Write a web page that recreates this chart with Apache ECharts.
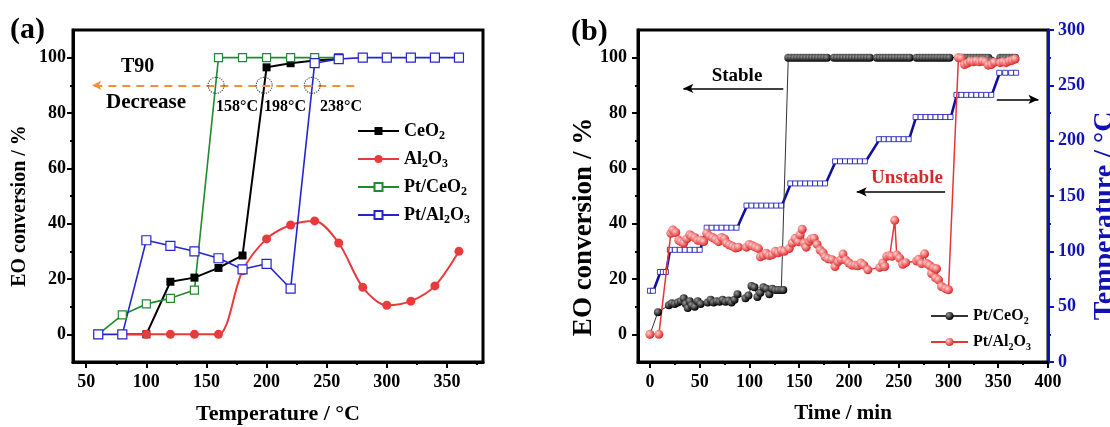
<!DOCTYPE html>
<html>
<head>
<meta charset="utf-8">
<script src="https://cdn.jsdelivr.net/npm/echarts@6.0.0/dist/echarts.min.js"></script>
<style>
html, body { margin: 0; padding: 0; background: #fff; }
#main { width: 1110px; height: 427px; }
</style>
</head>
<body>
<div id="main"></div>
<script>
// ---- panel (a): conversion vs temperature
var tempA    = [60, 80, 100, 120, 140, 160, 180, 200, 220, 240, 260, 280, 300, 320, 340, 360];
var ceO2     = [null, 0, 0, 19, 20.5, 24, 28.5, 96.5, 98, 99, 99.5, null, null, null, null, null];
var al2O3    = [null, 0, 0, 0, 0, 0, 23, 34.5, 39.5, 41, 33, 17, 10.5, 12, 17.5, 30];
var ptCeO2   = [0, 7, 11, 13, 16, 100, 100, 100, 100, 100, 100, null, null, null, null, null];
var ptAl2O3  = [0, 0, 34, 32, 30, 27.5, 23.5, 25.5, 16.5, 98, 99.5, 100, 100, 100, 100, 100];
var t90Marks = [158, 198, 238];
var t90Level = 90;
var t90Line  = [273, 55];

// ---- panel (b): stability test
var timeCe = [0, 8,
  19, 22, 25, 28, 31, 34, 36, 38, 40, 42, 45, 48, 51,
  58, 61, 64, 67, 70, 73, 76, 79, 82, 85, 88,
  96, 99, 102, 105, 108, 111, 114, 117, 120, 123, 126, 129, 132, 134,
  139, 142, 145, 148, 151, 154, 157, 160, 163, 166, 169, 172, 175, 178,
  185, 188, 191, 194, 197, 200, 203, 206, 209, 212, 215, 218, 221,
  228, 231, 234, 237, 240, 243, 246, 249, 252, 255, 258, 261,
  268, 271, 274, 277, 280, 283, 286, 289, 292, 295, 298, 301,
  310, 313, 316, 319, 322, 325, 328, 331, 334, 337, 340, 343,
  352, 355, 358, 361, 364, 367];
var convCe = [0, 8,
  10.5, 11.2, 11, 11.5, 12, 13, 11, 9.5, 12, 10.5, 10, 12, 11,
  11.5, 12.5, 11.5, 12, 11.8, 12.5, 11.8, 12.2, 11.5, 12.5, 14.5,
  13, 14, 17.5, 17, 13.5, 15, 17, 16.5, 14.5, 16.5, 16, 16, 16, 16,
  100, 100, 100, 100, 100, 100, 100, 100, 100, 100, 100, 100, 100, 100,
  100, 100, 100, 100, 100, 100, 100, 100, 100, 100, 100, 100, 100,
  100, 100, 100, 100, 100, 100, 100, 100, 100, 100, 100, 100,
  100, 100, 100, 100, 100, 100, 100, 100, 100, 100, 100, 100,
  100, 100, 100, 100, 100, 100, 100, 100, 100, 100, 100, 99,
  100, 100, 100, 100, 100, 100];

var timeAl = [0, 9, 21, 23, 26, 29, 31, 34, 37, 40, 42, 45, 48, 51, 54,
  57, 60, 63, 66, 69, 72, 75, 77, 80, 83, 86, 89,
  97, 100, 103, 106, 109, 111, 114, 117, 120, 123, 126, 129, 132, 135,
  140, 143, 146, 149, 151, 153, 155, 157, 160, 162, 165, 168, 171, 174, 176, 179,
  183, 186, 189, 192, 194, 197, 200, 203, 206, 209, 212, 215, 219,
  231, 234, 236, 238, 241, 243, 246, 248, 251, 254, 257,
  268, 270, 273, 276, 278, 281, 283, 285, 287, 288, 290, 293, 297, 300,
  310, 313, 316, 319, 322, 325, 328, 331, 334, 337, 340, 343, 346,
  352, 355, 358, 361, 364, 367];
var convAl = [0, 0, 36.5, 37.7, 36.8, 34, 33.5, 33, 34.5, 36, 35.5, 35, 34, 34, 33.5,
  36.5, 35.5, 35, 34.3, 33.5, 35, 34.5, 33, 32.3, 31.8, 31.2, 31.5,
  31.5, 32.5, 32, 31.5, 31, 28, 28.5, 29.3, 28.5, 28.8, 30, 29.5, 30.3, 30,
  31, 33, 34.7, 33.5, 36, 38, 33, 31.5, 33.5, 34.5, 34.7, 32.5, 30.5, 29.5, 28, 27.3,
  27, 24.5, 26.2, 27, 29, 26.8, 25.8, 25, 25, 24.8, 25.8, 25, 23.3,
  24.2, 25.8, 24.5, 28.2, 28.5, 28.2, 41.2, 28.7, 27.5, 25.3, 25.9,
  26.5, 27.1, 25.6, 29.1, 25.6, 24.9, 22, 24, 20.4, 23.7, 19.7, 17.3, 16.5, 16.1,
  100, 99.8, 97.5, 98, 98.7, 98.5, 98.8, 98.5, 98.8, 98.5, 97.3, 97.5, 98.3,
  98.2, 98.5, 98.2, 98.8, 99, 99.5];

var timeT = [0, 3, 10, 13, 16,
  20, 25, 30, 35, 40, 45, 50,
  57, 62, 67, 72, 77, 82, 87,
  97, 102, 107, 112, 117, 122, 127, 132,
  141, 146, 151, 156, 161, 166, 171, 176,
  186, 191, 196, 201, 206, 211, 216,
  230, 235, 240, 245, 250, 255, 260,
  267, 272, 277, 282, 287, 292, 297, 302,
  308, 313, 318, 323, 328, 333, 338, 343,
  351, 357, 363, 368];
var tempT = [63, 63, 80, 80, 80,
  100, 100, 100, 100, 100, 100, 100,
  120, 120, 120, 120, 120, 120, 120,
  140, 140, 140, 140, 140, 140, 140, 140,
  160, 160, 160, 160, 160, 160, 160, 160,
  180, 180, 180, 180, 180, 180, 180,
  200, 200, 200, 200, 200, 200, 200,
  220, 220, 220, 220, 220, 220, 220, 220,
  240, 240, 240, 240, 240, 240, 240, 240,
  260, 260, 260, 260];

// arrows: [from t, to t, level %]
var arrowsB = [[134, 33.6, 88.9], [296.6, 207.8, 51.5], [348.5, 390.4, 84.9]];

// ticks
var xTicksA = [50, 100, 150, 200, 250, 300, 350];
var xMinorA = [75, 125, 175, 225, 275, 325, 375];
var yTicks  = [0, 20, 40, 60, 80, 100];
var yMinor  = [10, 30, 50, 70, 90];
var xTicksB = [0, 50, 100, 150, 200, 250, 300, 350, 400];
var xMinorB = [25, 75, 125, 175, 225, 275, 325, 375];
var tTicksB = [0, 50, 100, 150, 200, 250, 300];
var tMinorB = [25, 75, 125, 175, 225, 275];

var FONT = 'Liberation Serif';

function pairs(xs, ys) {
  var out = [];
  for (var i = 0; i < xs.length; i++) {
    if (ys[i] != null) out.push([xs[i], ys[i]]);
  }
  return out;
}

// heating ramps only: segments joining the end of one step to the start of the next
function ramps(xs, ys) {
  var out = [];
  for (var i = 1; i < xs.length; i++) {
    if (ys[i] !== ys[i - 1]) {
      out.push([xs[i - 1], ys[i - 1]], [xs[i], ys[i]], ['-', '-']);
    }
  }
  return out;
}

function mainAxis(o, color) {
  color = color || '#000';
  return Object.assign({
    type: 'value',
    axisLine: { show: true, onZero: false, lineStyle: { color: color, width: 3 } },
    axisTick: { show: true, customValues: o.ticks, length: 6, lineStyle: { color: color, width: 2 } },
    axisLabel: { customValues: o.ticks, margin: o.margin, fontFamily: FONT, fontWeight: 'bold', fontSize: 18, color: color },
    splitLine: { show: false },
    nameLocation: 'middle',
    nameMoveOverlap: false
  }, o.extra);
}

function minorAxis(o, color) {
  color = color || '#000';
  return Object.assign({
    type: 'value',
    axisLine: { show: false, onZero: false },
    axisTick: { show: true, customValues: o.ticks, length: 3, lineStyle: { color: color, width: 2 } },
    axisLabel: { show: false },
    splitLine: { show: false }
  }, o.extra);
}

var nameStyle = function (size, color) {
  return { fontFamily: FONT, fontWeight: 'bold', fontSize: size, color: color || '#000' };
};

var subs = {
  'CeO2': '{n|CeO}{s|2}',
  'Al2O3': '{n|Al}{s|2}{n|O}{s|3}',
  'Pt/CeO2': '{n|Pt/CeO}{s|2}',
  'Pt/Al2O3': '{n|Pt/Al}{s|2}{n|O}{s|3}',
  'Pt/CeO2 b': '{n|Pt/CeO}{s|2}',
  'Pt/Al2O3 b': '{n|Pt/Al}{s|2}{n|O}{s|3}'
};

function legendText(size, lh) {
  return {
    fontFamily: FONT, fontWeight: 'bold', fontSize: size, color: '#000',
    rich: {
      n: { fontFamily: FONT, fontWeight: 'bold', fontSize: size, lineHeight: lh, color: '#000' },
      s: { fontFamily: FONT, fontWeight: 'bold', fontSize: Math.round(size * 0.65), lineHeight: Math.round(lh / 2), verticalAlign: 'bottom', color: '#000' }
    }
  };
}

function ball(light, dark) {
  return new echarts.graphic.RadialGradient(0.35, 0.35, 0.65, [
    { offset: 0, color: light }, { offset: 1, color: dark }
  ]);
}

var blue = '#1212b4';

var myChart = echarts.init(document.getElementById('main'));
var option = {
  animation: false,
  backgroundColor: '#fff',
  grid: [
    { left: 73, top: 30, width: 410, height: 332, show: true, borderColor: '#000', borderWidth: 3, outerBoundsMode: 'none' },
    { left: 638, top: 30, width: 410, height: 332, show: true, borderColor: '#000', borderWidth: 3, outerBoundsMode: 'none' }
  ],
  xAxis: [
    mainAxis({ ticks: xTicksA, margin: 11, extra: { gridIndex: 0, position: 'bottom', min: 39, max: 380,
      name: 'Temperature / °C', nameGap: 41, nameTextStyle: nameStyle(22) } }),
    minorAxis({ ticks: xMinorA, extra: { gridIndex: 0, position: 'bottom', min: 39, max: 380 } }),
    mainAxis({ ticks: xTicksB, margin: 11, extra: { gridIndex: 1, position: 'bottom', min: -12, max: 400,
      name: 'Time / min', nameGap: 41, nameTextStyle: nameStyle(21) } }),
    minorAxis({ ticks: xMinorB, extra: { gridIndex: 1, position: 'bottom', min: -12, max: 400 } })
  ],
  yAxis: [
    mainAxis({ ticks: yTicks, margin: 7, extra: { gridIndex: 0, position: 'left', min: -10, max: 110,
      name: 'EO conversion / %', nameGap: 43, nameRotate: 90, nameTextStyle: Object.assign(nameStyle(20), { padding: [0, 20, 0, 0] }) } }),
    minorAxis({ ticks: yMinor, extra: { gridIndex: 0, position: 'left', min: -10, max: 110 } }),
    mainAxis({ ticks: yTicks, margin: 11, extra: { gridIndex: 1, position: 'left', min: -10, max: 110,
      name: 'EO conversion / %', nameGap: 40, nameRotate: 90, nameTextStyle: Object.assign(nameStyle(27), { padding: [0, 62, 0, 0] }) } }),
    minorAxis({ ticks: yMinor, extra: { gridIndex: 1, position: 'left', min: -10, max: 110 } }),
    mainAxis({ ticks: tTicksB, margin: 10, extra: { gridIndex: 1, position: 'right', min: 0, max: 300,
      name: 'Temperature / °C', nameGap: 43, nameRotate: 90, nameTextStyle: Object.assign(nameStyle(28, blue), { padding: [0, 40, 0, 0] }) } }, blue),
    minorAxis({ ticks: tMinorB, extra: { gridIndex: 1, position: 'right', min: 0, max: 300 } }, blue)
  ],
  legend: [
    {
      data: ['CeO2', 'Al2O3', 'Pt/CeO2', 'Pt/Al2O3'],
      orient: 'vertical', left: 352, top: 117, itemWidth: 41, itemHeight: 10, itemGap: 8,
      selectedMode: false,
      formatter: function (name) { return subs[name]; },
      textStyle: legendText(18, 22)
    },
    {
      data: ['Pt/CeO2 b', 'Pt/Al2O3 b'],
      orient: 'vertical', left: 925, top: 303, itemWidth: 37, itemHeight: 10, itemGap: 8,
      selectedMode: false,
      formatter: function (name) { return subs[name]; },
      textStyle: legendText(16, 20)
    }
  ],
  graphic: [
    { type: 'text', x: 10, y: 30, style: { text: '(a)', font: 'bold 30px "Liberation Serif"', fill: '#000', textVerticalAlign: 'middle', verticalAlign: 'middle' } },
    { type: 'text', x: 571, y: 32, style: { text: '(b)', font: 'bold 30px "Liberation Serif"', fill: '#000', textVerticalAlign: 'middle', verticalAlign: 'middle' } },
    { type: 'text', x: 121, y: 67, style: { text: 'T90', font: 'bold 20px "Liberation Serif"', fill: '#000', textVerticalAlign: 'middle', verticalAlign: 'middle' } },
    { type: 'text', x: 106, y: 103, style: { text: 'Decrease', font: 'bold 21px "Liberation Serif"', fill: '#000', textVerticalAlign: 'middle', verticalAlign: 'middle' } },
    { type: 'text', x: 216, y: 107, style: { text: '158°C', font: 'bold 16px "Liberation Serif"', fill: '#000', textVerticalAlign: 'middle', verticalAlign: 'middle' } },
    { type: 'text', x: 264, y: 107, style: { text: '198°C', font: 'bold 16px "Liberation Serif"', fill: '#000', textVerticalAlign: 'middle', verticalAlign: 'middle' } },
    { type: 'text', x: 320, y: 107, style: { text: '238°C', font: 'bold 16px "Liberation Serif"', fill: '#000', textVerticalAlign: 'middle', verticalAlign: 'middle' } },
    { type: 'text', x: 737, y: 76, style: { text: 'Stable', font: 'bold 19px "Liberation Serif"', fill: '#000', textAlign: 'center', align: 'center', textVerticalAlign: 'middle', verticalAlign: 'middle' } },
    { type: 'text', x: 907, y: 178, style: { text: 'Unstable', font: 'bold 19px "Liberation Serif"', fill: '#d42a2a', textAlign: 'center', align: 'center', textVerticalAlign: 'middle', verticalAlign: 'middle' } }
  ],
  series: [
    {
      name: 'CeO2', type: 'line', xAxisIndex: 0, yAxisIndex: 0,
      data: pairs(tempA, ceO2),
      symbol: 'rect', symbolSize: 8,
      itemStyle: { color: '#000' }, lineStyle: { color: '#000', width: 2 }
    },
    {
      name: 'Al2O3', type: 'line', xAxisIndex: 0, yAxisIndex: 0,
      data: pairs(tempA, al2O3), smooth: 0.3,
      symbol: 'circle', symbolSize: 9,
      itemStyle: { color: '#ea3a3c' }, lineStyle: { color: '#ea3a3c', width: 2 }
    },
    {
      name: 'Pt/CeO2', type: 'line', xAxisIndex: 0, yAxisIndex: 0,
      data: pairs(tempA, ptCeO2),
      symbol: 'rect', symbolSize: 8,
      itemStyle: { color: '#fff', borderColor: '#1f8a2e', borderWidth: 1.2 },
      lineStyle: { color: '#1f8a2e', width: 1.6 }
    },
    {
      name: 'Pt/Al2O3', type: 'line', xAxisIndex: 0, yAxisIndex: 0,
      data: pairs(tempA, ptAl2O3),
      symbol: 'rect', symbolSize: 9,
      itemStyle: { color: '#fff', borderColor: '#2424d0', borderWidth: 1.2 },
      lineStyle: { color: '#2424d0', width: 1.6 }
    },
    {
      name: 'T90', type: 'scatter', xAxisIndex: 0, yAxisIndex: 0, z: 5,
      data: t90Marks.map(function (t) { return [t, t90Level]; }),
      symbol: 'circle', symbolSize: 16,
      itemStyle: { color: 'rgba(0,0,0,0)', borderColor: '#222', borderWidth: 1.2, borderType: 'dotted' },
      markLine: {
        silent: true, symbol: ['none', 'arrow'], symbolSize: [7, 9],
        label: { show: false },
        lineStyle: { color: '#f0903a', width: 2, type: [8, 6] },
        data: [[{ coord: [t90Line[0], t90Level] }, { coord: [t90Line[1], t90Level] }]]
      }
    },
    {
      name: 'Temp', type: 'line', xAxisIndex: 2, yAxisIndex: 4, z: 1,
      data: pairs(timeT, tempT),
      symbol: 'rect', symbolSize: 5, symbolOffset: [0, -1.5],
      itemStyle: { color: '#fff', borderColor: blue, borderWidth: 0.8 },
      lineStyle: { color: '#2a2aa8', width: 1 }
    },
    {
      name: 'Temp ramp', type: 'line', xAxisIndex: 2, yAxisIndex: 4, z: 1,
      data: ramps(timeT, tempT), connectNulls: false,
      symbol: 'none',
      lineStyle: { color: '#10109c', width: 2.6 }
    },
    {
      name: 'Pt/CeO2 b', type: 'line', xAxisIndex: 2, yAxisIndex: 2,
      data: pairs(timeCe, convCe),
      symbol: 'circle', symbolSize: 8,
      itemStyle: { color: ball('#9a9a9a', '#000') },
      lineStyle: { color: '#333', width: 1 },
      markLine: {
        silent: true, symbol: ['none', 'arrow'], symbolSize: [7, 10],
        label: { show: false },
        lineStyle: { color: '#000', width: 1.5, type: 'solid' },
        data: arrowsB.map(function (a) { return [{ coord: [a[0], a[2]] }, { coord: [a[1], a[2]] }]; })
      }
    },
    {
      name: 'Pt/Al2O3 b', type: 'line', xAxisIndex: 2, yAxisIndex: 2,
      data: pairs(timeAl, convAl),
      symbol: 'circle', symbolSize: 9,
      itemStyle: { color: ball('#ffd0d0', '#e02a2a') },
      lineStyle: { color: '#e53535', width: 1.5 }
    }
  ]
};
myChart.setOption(option);
</script>
</body>
</html>
